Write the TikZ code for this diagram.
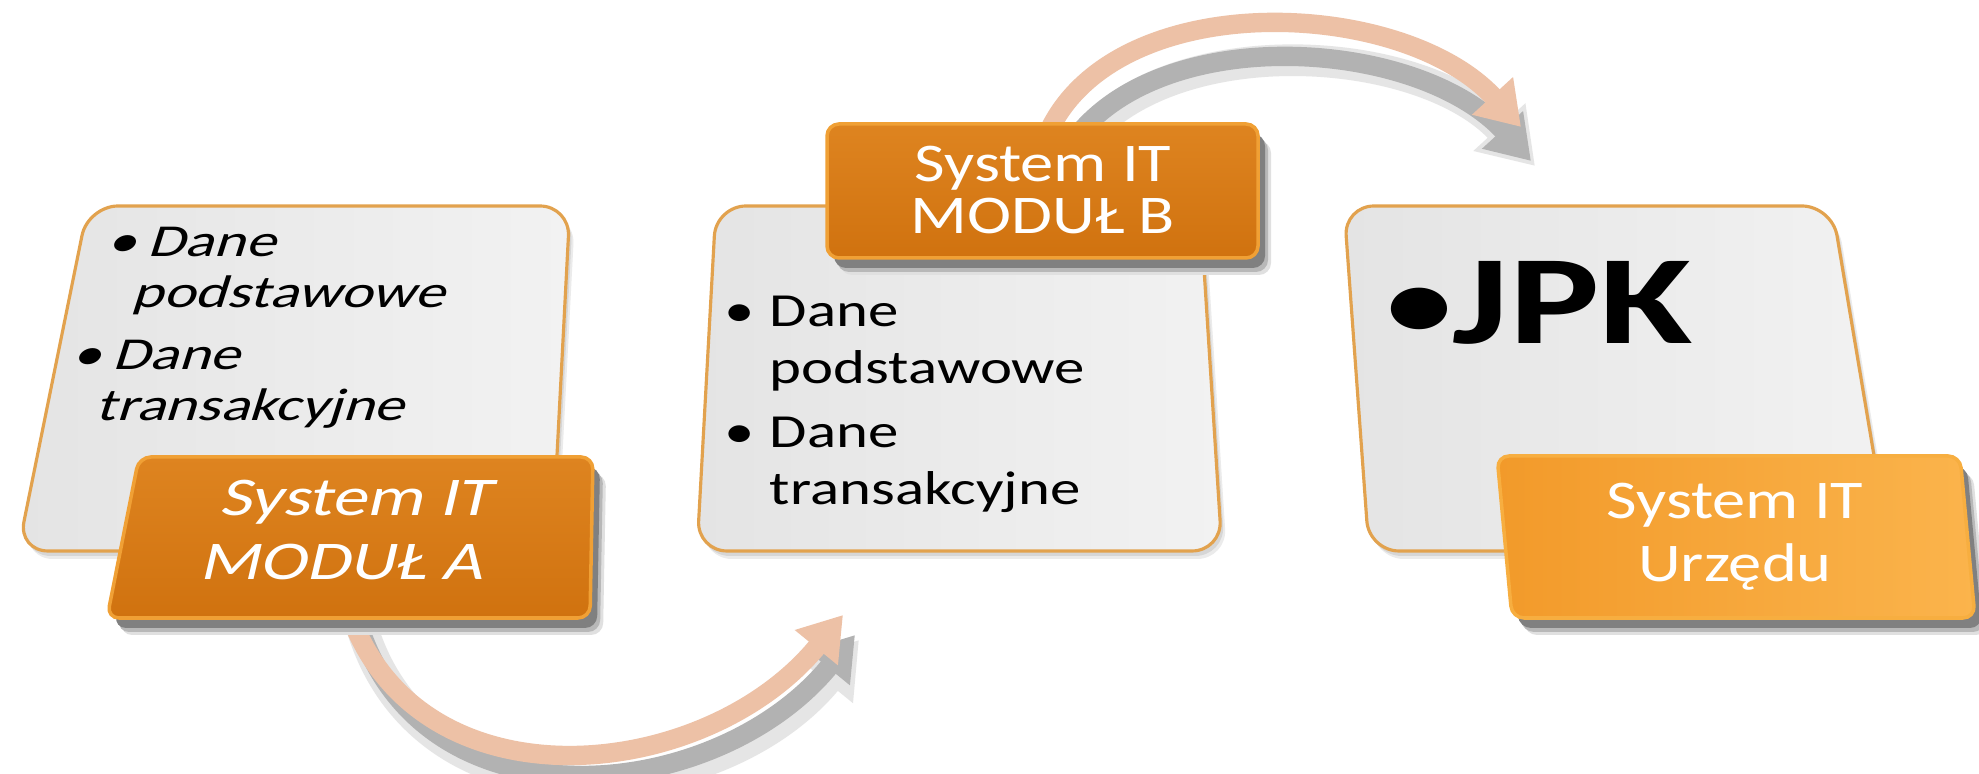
\documentclass[tikz,border=0pt]{standalone}
\usepackage{fontspec}
\setmainfont{Carlito}
\usetikzlibrary{arrows.meta}

\pgfdeclarelayer{back}
\pgfsetlayers{back,main}

\definecolor{panelgrey}{HTML}{E4E4E4}
\definecolor{panellight}{HTML}{F2F2F2}
\definecolor{panelrim}{HTML}{E2A24E}
\definecolor{modtop}{HTML}{DE8420}
\definecolor{modbot}{HTML}{D0720F}
\definecolor{modrim}{HTML}{F0A035}
\definecolor{urzleft}{HTML}{F29A2A}
\definecolor{urzright}{HTML}{FBB44C}
\definecolor{urzrim}{HTML}{F7AE40}
\definecolor{arrowpeach}{HTML}{EDC1A6}

\tikzstyle{panel} = [draw=panelrim, line width=0.9pt, rounded corners=0.3cm, left color=panelgrey, right color=panellight,
  preaction={fill=black!8, transform canvas={shift={(5,8)}}},
  preaction={fill=black!16, transform canvas={shift={(3,5)}}}]
\tikzstyle{boxshadow} = [preaction={fill=black!12, transform canvas={shift={(13,17)}}},
  preaction={fill=black!28, transform canvas={shift={(10,14)}}},
  preaction={fill=black!50, transform canvas={shift={(7,10)}}}]
\tikzstyle{modbox} = [boxshadow, draw=modrim, line width=1pt, rounded corners=0.12cm, top color=modtop, bottom color=modbot]
\tikzstyle{urzbox} = [boxshadow, draw=urzrim, line width=1pt, rounded corners=0.12cm, left color=urzleft, right color=urzright]
\tikzstyle{datatext} = [inner sep=0pt, anchor=base west, transform shape, xscale=1.28, font=\fontsize{13.5}{16.2}\selectfont]
\tikzstyle{modtext} = [inner sep=0pt, align=center, text=white, transform shape, xscale=1.22, font=\fontsize{15.5}{18}\selectfont]
\tikzstyle{flowarrow} = [line width=5.5pt, draw=arrowpeach, -{Triangle[width=15pt,length=12pt]}]
\tikzstyle{flowshadow} = [line width=5.5pt, draw=black!30, -{Triangle[width=15pt,length=12pt]}]
\tikzstyle{flowblur} = [line width=9pt, draw=black!10, -{Triangle[width=19pt,length=15pt]}]

\newcommand{\pt}[1]{\makebox[#1][l]{•}}

\begin{document}
\begin{tikzpicture}[x=0.01cm, y=-0.01cm]
      \useasboundingbox (0,0) rectangle (1979,774);
      \begin{pgfonlayer}{back}
        \fill[white] (0,0) rectangle (1979,774);
        %panels
        \path[panel] (329,206) -- (570,206) -- (552,551) -- (18,551) -- (88,206) -- cycle;
        \path[panel] (950,206) -- (1200,206) -- (1222,551) -- (697,551) -- (716,206) -- cycle;
        \path[panel] (1590,206) -- (1832,206) -- (1890,551) -- (1369,551) -- (1344,206) -- cycle;
      \end{pgfonlayer}

      %panel texts
      \node[datatext, xscale=1.03, xslant=0.24, font=\fontsize{13}{14.5}\selectfont] (dataA) at (106,257)
        {\begin{tabular}[t]{@{}l@{}l@{}}\pt{8.8pt}&Dane\\&podstawowe\\[3pt]\pt{8.8pt}&Dane\\&transakcyjne\end{tabular}};
      \node[datatext] (dataB) at (724,327)
        {\begin{tabular}[t]{@{}l@{}l@{}}\pt{10pt}&Dane\\&podstawowe\\[2pt]\pt{10pt}&Dane\\&transakcyjne\end{tabular}};
      \node[datatext, xscale=1.05, font=\bfseries\fontsize{36}{44}\selectfont] (jpk) at (1386,344)
        {\raisebox{2pt}{\fontsize{28}{28}\selectfont •}JPK};

      %system boxes
      \path[modbox] (366,457) -- (593,457) -- (590,618) -- (107,618) -- (139,457) -- cycle;
      \path[modbox] (1043,124) -- (1258,124) -- (1258,258) -- (827,258) -- (827,124) -- cycle;
      \path[urzbox] (1730,456) -- (1960,456) -- (1975,618) -- (1512,618) -- (1497,456) -- cycle;
      \node[modtext, xscale=1.06, xslant=0.18] (modA) at (352,530) {System IT\\MODUŁ A};
      \node[modtext, font=\fontsize{15.5}{15}\selectfont] (modB) at (1043,190) {System IT\\MODUŁ B};
      \node[modtext] (modC) at (1735,537) {System IT\\Urzędu};

      \coordinate (tipB) at (843,615);
      \coordinate (tipC) at (1521,127);

      %arrows
      \begin{pgfonlayer}{back}
      \foreach \startnode/\ax/\ay/\bx/\by/\endnode/\sx/\sy in {
        modA.south/390/815/700/790/tipB/12/20,
        modB.north/1100/-15/1400/-5/tipC/10/34}
      {
        \draw[flowblur, transform canvas={shift={(\sx+4,\sy+5)}}] (\startnode) .. controls (\ax,\ay) and (\bx,\by) .. (\endnode);
        \draw[flowshadow, transform canvas={shift={(\sx,\sy)}}] (\startnode) .. controls (\ax,\ay) and (\bx,\by) .. (\endnode);
        \draw[flowarrow] (\startnode) .. controls (\ax,\ay) and (\bx,\by) .. (\endnode);
      }
      \end{pgfonlayer}
\end{tikzpicture}
\end{document}
